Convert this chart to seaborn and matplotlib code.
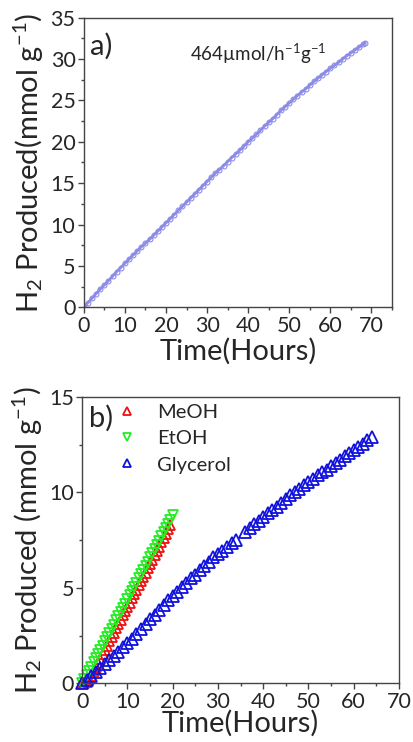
import numpy as np
import pandas as pd
import seaborn as sns
import matplotlib as mpl
import matplotlib.pyplot as plt
from matplotlib.ticker import MultipleLocator

sns.set_style("ticks")
plt.rcParams['font.family'] = ['Lato', 'DejaVu Sans']
plt.rcParams['mathtext.fontset'] = 'custom'
plt.rcParams['mathtext.rm'] = 'Lato'
plt.rcParams['mathtext.it'] = 'Lato:italic'
plt.rcParams['mathtext.default'] = 'regular'

# panel a: total H2 over time
time_a = [0, 1, 2, 3, 4, 5, 6, 7, 8, 9, 10, 11, 12, 13, 14, 15, 16, 17, 18, 19,
          20, 21, 22, 23, 24, 25, 26, 27, 28, 29, 30, 31, 32, 33, 34, 35, 36, 37, 38, 39,
          40, 41, 42, 43, 44, 45, 46, 47, 48, 49, 50, 51, 52, 53, 54, 55, 56, 57, 58, 59,
          60, 61, 62, 63, 64, 65, 66, 67, 68, 68.5]
h2_a = [0, 0.55, 1.1, 1.65, 2.2, 2.7, 3.2, 3.75, 4.3, 4.8, 5.3, 5.8, 6.3, 6.8, 7.3, 7.75, 8.2, 8.7, 9.2, 9.7,
        10.2, 10.7, 11.2, 11.7, 12.2, 12.7, 13.2, 13.7, 14.2, 14.7, 15.2, 15.7, 16.2, 16.65, 17.1, 17.6, 18.1, 18.55, 19.0, 19.5,
        20.0, 20.45, 20.9, 21.4, 21.9, 22.35, 22.8, 23.3, 23.8, 24.25, 24.7, 25.15, 25.6, 26.0, 26.4, 26.85, 27.3, 27.7, 28.1, 28.5,
        28.9, 29.25, 29.6, 30.0, 30.4, 30.75, 31.1, 31.45, 31.8, 32.0]

# panel b: sacrificial agents
time_meoh = [0, 0.5, 1, 1.5, 2, 2.5, 3, 3.5, 4, 4.5, 5, 5.5, 6, 6.5, 7, 7.5, 8, 8.5, 9, 9.5,
             10, 10.5, 11, 11.5, 12, 12.5, 13, 13.5, 14, 14.5, 15, 15.5, 16, 16.5, 17, 17.5, 18, 18.5, 19, 19.5]
h2_meoh = [0, 0.02, 0.08, 0.22, 0.4, 0.63, 0.86, 1.08, 1.3, 1.53, 1.76, 1.98, 2.2, 2.43, 2.66, 2.88, 3.1, 3.33, 3.56, 3.78,
           4.0, 4.23, 4.46, 4.68, 4.9, 5.13, 5.36, 5.58, 5.8, 6.03, 6.26, 6.48, 6.7, 6.93, 7.16, 7.38, 7.6, 7.83, 8.06, 8.28]
time_etoh = [0, 0.5, 1, 1.5, 2, 2.5, 3, 3.5, 4, 4.5, 5, 5.5, 6, 6.5, 7, 7.5, 8, 8.5, 9, 9.5,
             10, 10.5, 11, 11.5, 12, 12.5, 13, 13.5, 14, 14.5, 15, 15.5, 16, 16.5, 17, 17.5, 18, 18.5, 19, 19.5, 20]
h2_etoh = [0, 0.22, 0.44, 0.66, 0.88, 1.1, 1.32, 1.54, 1.76, 1.98, 2.2, 2.42, 2.64, 2.86, 3.08, 3.3, 3.52, 3.74, 3.96, 4.18,
           4.4, 4.62, 4.84, 5.06, 5.28, 5.5, 5.72, 5.94, 6.16, 6.38, 6.6, 6.82, 7.04, 7.26, 7.48, 7.7, 7.92, 8.14, 8.36, 8.58, 8.8]
time_gly = [0, 1, 2, 3, 4, 5, 6, 7, 8, 9, 10, 11, 12, 13, 14, 15, 16, 17, 18, 19,
            20, 21, 22, 23, 24, 25, 26, 27, 28, 29, 30, 31, 32, 33, 34, 36, 37, 38, 39,
            40, 41, 42, 43, 44, 45, 46, 47, 48, 49, 50, 51, 52, 53, 54, 55, 56, 57, 58, 59,
            60, 61, 62, 63, 64]
h2_gly = [0, 0.2, 0.4, 0.6, 0.8, 1.0, 1.2, 1.45, 1.65, 1.9, 2.1, 2.35, 2.6, 2.85, 3.1, 3.35, 3.6, 3.85, 4.1, 4.35,
          4.6, 4.8, 5.05, 5.25, 5.5, 5.7, 5.95, 6.15, 6.35, 6.6, 6.8, 6.95, 7.15, 7.35, 7.5, 7.95, 8.15, 8.35, 8.5,
          8.7, 8.9, 9.1, 9.25, 9.45, 9.65, 9.85, 10.0, 10.2, 10.4, 10.55, 10.7, 10.9, 11.05, 11.2, 11.4, 11.55, 11.7, 11.9, 12.05,
          12.2, 12.4, 12.55, 12.75, 12.9]

series_b = [('MeOH', time_meoh, h2_meoh, '^', '#ee1111', 7),
            ('EtOH', time_etoh, h2_etoh, 'v', '#22ee22', 7.5),
            ('Glycerol', time_gly, h2_gly, '^', '#1111dd', 8)]

spine_c = '#444444'


def style_axes(ax):
    for s in ['top', 'right', 'left', 'bottom']:
        ax.spines[s].set_visible(True)
        ax.spines[s].set_color(spine_c)
        ax.spines[s].set_linewidth(1.0)
    ax.tick_params(which='both', direction='out', color=spine_c, top=False, right=False)
    ax.tick_params(which='major', length=4, width=1, labelsize=15.5, pad=2)
    ax.tick_params(which='minor', length=2.5, width=1)


fig = plt.figure(figsize=(4.13, 7.42), dpi=100)

# ---- (a)
ax1 = fig.add_axes([0.203, 0.586, 0.746, 0.390])
df_a = pd.DataFrame({'t': time_a, 'h2': h2_a})
sns.lineplot(data=df_a, x='t', y='h2', estimator=None, color='#8c8ce6', lw=2.0,
             marker='o', markersize=3.5, markerfacecolor='none', markeredgecolor='#8c8ce6',
             markeredgewidth=0.8, ax=ax1)
ax1.set_xlim(0, 75)
ax1.set_ylim(0, 35)
ax1.xaxis.set_major_locator(MultipleLocator(10))
ax1.xaxis.set_minor_locator(MultipleLocator(5))
ax1.yaxis.set_major_locator(MultipleLocator(5))
ax1.yaxis.set_minor_locator(MultipleLocator(2.5))
style_axes(ax1)
ax1.set_xlabel('Time(Hours)', fontsize=21, labelpad=2)
ax1.set_ylabel('H$_2$ Produced(mmol g$^{-1}$)', fontsize=21, labelpad=3)
ax1.text(0.02, 0.872, 'a)', transform=ax1.transAxes, fontsize=21, ha='left', va='baseline')
ax1.text(0.344, 0.852, '464µmol/h$^{-1}$g$^{-1}$', transform=ax1.transAxes, fontsize=13.5,
         ha='left', va='baseline')

# ---- (b)
ax2 = fig.add_axes([0.199, 0.079, 0.767, 0.386])
for name, t, h, mk, c, ms in series_b:
    df_b = pd.DataFrame({'t': t, 'h2': h})
    sns.lineplot(data=df_b, x='t', y='h2', estimator=None, linestyle='', marker=mk,
                 markersize=ms, markerfacecolor='none', markeredgecolor=c,
                 markeredgewidth=1.3, color=c, label=name, ax=ax2, clip_on=False)
ax2.set_xlim(0, 70)
ax2.set_ylim(0, 15)
ax2.xaxis.set_major_locator(MultipleLocator(10))
ax2.xaxis.set_minor_locator(MultipleLocator(5))
ax2.yaxis.set_major_locator(MultipleLocator(5))
ax2.yaxis.set_minor_locator(MultipleLocator(2.5))
style_axes(ax2)
ax2.set_xlabel('Time(Hours)', fontsize=21, labelpad=-1)
ax2.set_ylabel('H$_2$ Produced (mmol g$^{-1}$)', fontsize=21, labelpad=3)
ax2.text(0.023, 0.895, 'b)', transform=ax2.transAxes, fontsize=21, ha='left', va='baseline')
ax2.legend(loc='upper left', bbox_to_anchor=(0.109, 0.975), frameon=False, fontsize=14.5,
           handlelength=1.0, handletextpad=1.0, labelspacing=0.45, borderpad=0,
           borderaxespad=0, markerscale=0.8)

fig.savefig('out.png', dpi=100)
